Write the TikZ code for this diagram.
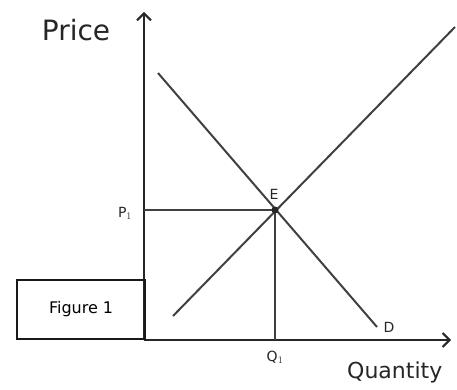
\documentclass[tikz,border=0pt]{standalone}
\usepackage{fontspec}
\setmainfont{DejaVu Sans}
\usetikzlibrary{arrows.meta}
\begin{document}
\begin{tikzpicture}[x=1pt,y=-1pt,
  axis/.style={line width=2.4pt, draw=black!85, -{Straight Barb[length=7pt,width=14pt,line width=2pt]}},
  curve/.style={line width=2pt, draw=black!75},
  guide/.style={line width=2.2pt, draw=black!75},
  lbl/.style={font=\fontsize{14}{15}\selectfont, text=black!85, inner sep=1pt},
  biglbl/.style={font=\fontsize{28}{30}\selectfont, text=black!85, inner sep=1pt}]
\useasboundingbox (0,0) rectangle (457,390);
\coordinate (O) at (144,340);
\coordinate (ytop) at (144,12);
\coordinate (xend) at (451,340);
\coordinate (E) at (275,210);
\coordinate (Dtop) at (158,73);
\coordinate (Dbot) at (377,327);
\coordinate (Sbot) at (173,316);
\coordinate (Stop) at (455,27);
\coordinate (P1) at (144,210);
\coordinate (Q1) at (275,340);
% axes
\draw[axis] (O) -- (ytop);
\draw[axis] (O) -- (xend);
% curves
\draw[curve] (Dtop) -- (Dbot);
\draw[curve] (Sbot) -- (Stop);
% guides
\draw[guide] (P1) -- (E);
\draw[guide] (E) -- (Q1);
\fill[black!85] (E) circle (3.5pt);
% labels
\node[biglbl] (price) at (76,30) {Price};
\node[biglbl, font=\fontsize{22}{24}\selectfont, anchor=west] (qty) at (346,372) {Quantity};
\node[lbl] (Elbl) at (274,194) {E};
\node[lbl] (Plbl) at (125,213) {P$_1$};
\node[lbl] (Qlbl) at (275,357) {Q$_1$};
\node[lbl] (Dlbl) at (389,327) {D};
% figure box
\node[draw=black!90, line width=2.2pt, minimum width=128pt, minimum height=59pt, anchor=south west, inner sep=0pt, font=\fontsize{16}{17}\selectfont] (fig) at (16,340) {Figure 1};
\end{tikzpicture}
\end{document}
